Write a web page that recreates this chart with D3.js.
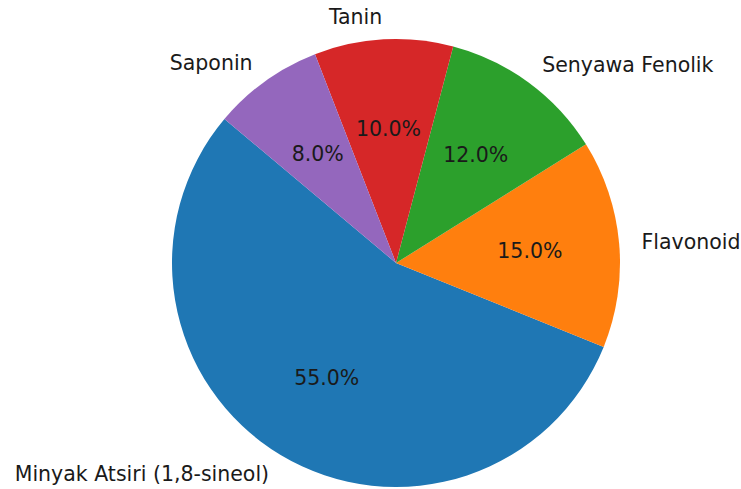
<!DOCTYPE html>
<html>
<head>
<meta charset="utf-8">
<script src="https://cdn.jsdelivr.net/npm/d3@7"></script>
<style>
  html, body { margin: 0; padding: 0; background: #fff; }
  svg { display: block; }
  text { font-family: "DejaVu Sans", sans-serif; fill: #1a1a1a; }
</style>
</head>
<body>
<svg id="chart" width="741" height="489"></svg>
<script>
const categories = ["Minyak Atsiri (1,8-sineol)", "Flavonoid", "Senyawa Fenolik", "Tanin", "Saponin"];
const values = [55, 15, 12, 10, 8];
const colors = ["#1f77b4", "#ff7f0e", "#2ca02c", "#d62728", "#9467bd"];

const W = 741, H = 489;
const cx = 396, cy = 263, R = 224;
const fontSize = 20.5;

const svg = d3.select("#chart");
const g = svg.append("g").attr("transform", `translate(${cx},${cy})`);

// matplotlib startangle=140 (ccw from +x) -> d3 angle (cw from 12 o'clock) = 90-140 = -50deg, counterclockwise
const start = (90 - 140) * Math.PI / 180;
const pie = d3.pie().sort(null).value(d => d.v)
  .startAngle(start).endAngle(start - 2 * Math.PI);

const data = categories.map((c, i) => ({ c, v: values[i], color: colors[i] }));
const arcs = pie(data);
const total = d3.sum(values);

const arc = d3.arc().innerRadius(0).outerRadius(R);
const labelArc = d3.arc().innerRadius(R * 1.1).outerRadius(R * 1.1);
const pctArc = d3.arc().innerRadius(R * 0.6).outerRadius(R * 0.6);

g.selectAll("path.slice").data(arcs).join("path")
  .attr("class", "slice")
  .attr("d", arc)
  .attr("fill", d => d.data.color);

g.selectAll("text.lbl").data(arcs).join("text")
  .attr("class", "lbl")
  .attr("x", d => labelArc.centroid(d)[0])
  .attr("y", d => labelArc.centroid(d)[1])
  .attr("text-anchor", d => labelArc.centroid(d)[0] > 0 ? "start" : "end")
  .attr("dominant-baseline", "central")
  .attr("font-size", fontSize)
  .text(d => d.data.c);

g.selectAll("text.pct").data(arcs).join("text")
  .attr("class", "pct")
  .attr("x", d => pctArc.centroid(d)[0])
  .attr("y", d => pctArc.centroid(d)[1])
  .attr("text-anchor", "middle")
  .attr("dominant-baseline", "central")
  .attr("font-size", fontSize)
  .text(d => (d.data.v / total * 100).toFixed(1) + "%");
</script>
</body>
</html>
